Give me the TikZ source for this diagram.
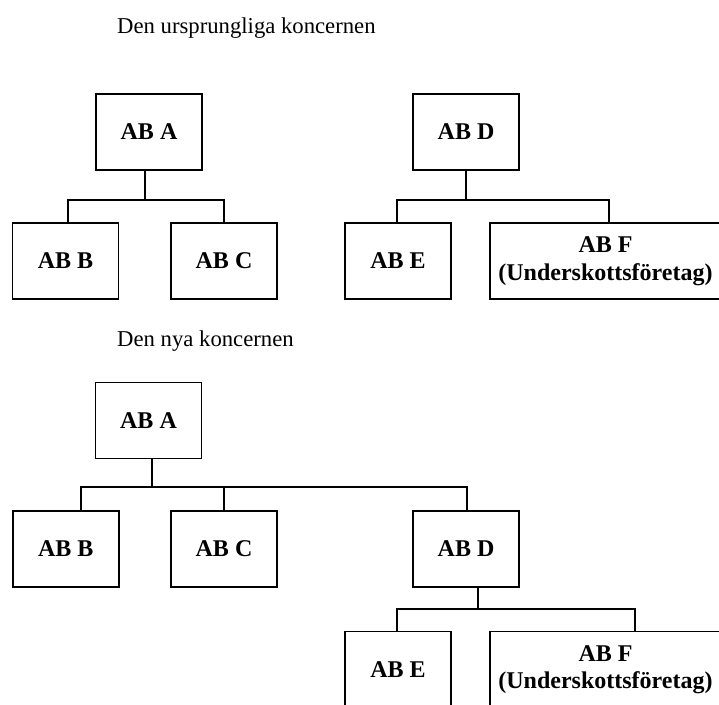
\documentclass[tikz,border=0pt]{standalone}
\usepackage{fontspec}
\setmainfont{Liberation Serif}

\begin{document}
\begin{tikzpicture}[x=1pt, y=-1pt,
	bstyle/.style={rectangle, draw=black, line width=1.5pt,
	minimum width=106pt, minimum height=76pt, inner sep=0pt,
	align=center, font=\fontsize{24}{27.5}\selectfont\bfseries},
	wstyle/.style={bstyle, minimum width=231pt},
	tstyle/.style={anchor=base west, inner sep=0pt,
	font=\fontsize{22.7}{26}\selectfont},
	lstyle/.style={line width=1.5pt}
	]
	\useasboundingbox (0,0) rectangle (719,704);
	% den ursprungliga koncernen
	\draw(117,33)node[tstyle] (title1) {Den ursprungliga koncernen};
	\draw(149,132)node[bstyle] (A) {AB A};
	\draw(65.5,261)node[bstyle] (B) {AB B};
	\draw(224,261)node[bstyle] (C) {AB C};
	\draw(466,132)node[bstyle] (D) {AB D};
	\draw(398,261)node[bstyle] (E) {AB E};
	\draw(605.5,261)node[wstyle] (F) {AB F\\(Underskottsföretag)};
	\draw[lstyle] ([xshift=-4]A.south) -- ++(0,29) coordinate (a1);
	\draw[lstyle] ([xshift=2.5]B.north) |- (a1) -| (C.north);
	\draw[lstyle] (D.south) -- ++(0,29) coordinate (d1);
	\draw[lstyle] ([xshift=-1]E.north) |- (d1) -| ([xshift=3.5]F.north);
	% den nya koncernen
	\draw(117,346.7)node[tstyle] (title2) {Den nya koncernen};
	\draw(148.5,420.5)node[bstyle] (A2) {AB A};
	\draw(65.8,549)node[bstyle] (B2) {AB B};
	\draw(224,549)node[bstyle] (C2) {AB C};
	\draw(466,549)node[bstyle] (D2) {AB D};
	\draw(398,669.5)node[bstyle] (E2) {AB E};
	\draw(605.5,669.5)node[wstyle] (F2) {AB F\\(Underskottsföretag)};
	\draw[lstyle] ([xshift=3.5]A2.south) -- ++(0,27.5) coordinate (a2);
	\draw[lstyle] ([xshift=15]B2.north) |- (a2) -| ([xshift=0.8]D2.north);
	\draw[lstyle] (C2.north) -- (C2.north |- a2);
	\draw[lstyle] ([xshift=12]D2.south) -- ++(0,21) coordinate (d2);
	\draw[lstyle] ([xshift=-1]E2.north) |- (d2) -| ([xshift=29.5]F2.north);
\end{tikzpicture}
\end{document}
